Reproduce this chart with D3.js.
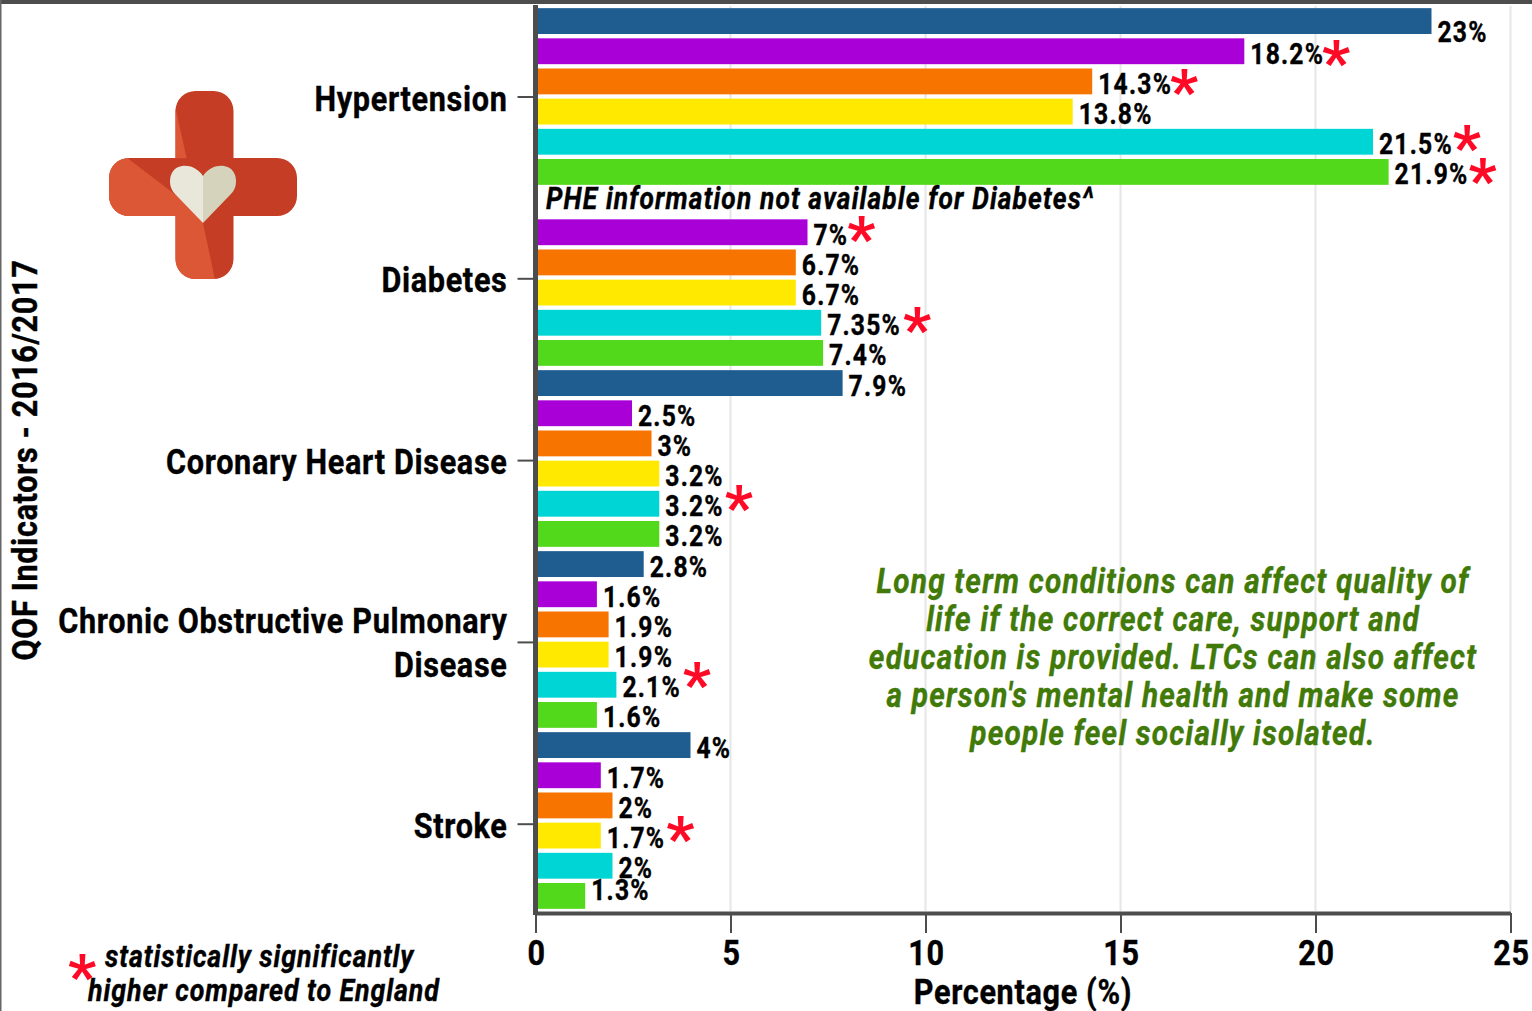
<!DOCTYPE html>
<html>
<head>
<meta charset="UTF-8">
<script src="https://d3js.org/d3.v7.min.js"></script>
<style>
    html, body { margin: 0; padding: 0; background: #fff; }
    text { font-family: Roboto, sans-serif; font-weight: 700; fill: #000; }
</style>
</head>
<body>
<svg id="canvas"></svg>
<script>
const groups = ["Hypertension", "Diabetes", "Coronary Heart Disease", "Chronic Obstructive Pulmonary Disease", "Stroke"];
const seriesNames = ["blue", "purple", "orange", "yellow", "cyan", "green"];
const seriesColours = ["#1f5c90", "#aa00d8", "#f77400", "#ffe900", "#00d5d5", "#52d91c"];

const blueValues = [23, null, 7.9, 2.8, 4];
const purpleValues = [18.2, 7, 2.5, 1.6, 1.7];
const orangeValues = [14.3, 6.7, 3, 1.9, 2];
const yellowValues = [13.8, 6.7, 3.2, 1.9, 1.7];
const cyanValues = [21.5, 7.35, 3.2, 2.1, 2];
const greenValues = [21.9, 7.4, 3.2, 1.6, 1.3];

// which bars get the red star
const blueStars = [0, 0, 0, 0, 0];
const purpleStars = [1, 1, 0, 0, 0];
const orangeStars = [1, 0, 0, 0, 0];
const yellowStars = [0, 0, 0, 0, 1];
const cyanStars = [1, 1, 1, 1, 0];
const greenStars = [1, 0, 0, 0, 0];

const xTicks = [0, 5, 10, 15, 20, 25];
const infoLines = [
    "Long term conditions can affect quality of",
    "life if the correct care, support and",
    "education is provided. LTCs can also affect",
    "a person's mental health and make some",
    "people feel socially isolated."
];

const allValues = [blueValues, purpleValues, orangeValues, yellowValues, cyanValues, greenValues];
const allStars = [blueStars, purpleStars, orangeStars, yellowStars, cyanStars, greenStars];

const width = 1532, height = 1011;
const squeeze = 0.85; // only plain Roboto is installed, the original is condensed
const dark = "#4d4d4d";

const svg = d3.select("#canvas")
    .attr("width", width)
    .attr("height", height)
    .style("display", "block");

const x = d3.scaleLinear().domain([0, 25]).range([535.5, 1510.5]);
const y0 = d3.scaleBand().domain(groups).range([6, 911]);
const y1 = d3.scaleBand().domain(seriesNames).range([0, y0.bandwidth()]).paddingInner(0.143).paddingOuter(0.0715);
const yTick = d3.scalePoint().domain(groups).range([96.5, 823.7]);
const colour = d3.scaleOrdinal().domain(seriesNames).range(seriesColours);

function put(parent, px, py, str, size, o) {
    o = o || {};
    return parent.append("text")
        .attr("transform", "translate(" + px + "," + py + ")" + (o.rotate ? " rotate(" + o.rotate + ")" : "") + " scale(" + squeeze + ",1)")
        .attr("text-anchor", o.anchor || "start")
        .style("font-size", size + "px")
        .style("font-style", o.italic ? "italic" : "normal")
        .style("letter-spacing", (o.spacing || 0) + "px")
        .style("fill", o.fill || "#000")
        .style("stroke", o.fill || "#000")
        .style("stroke-width", 0.4)
        .text(str);
}

function star(px, py) {
    svg.append("text")
        .attr("x", px)
        .attr("y", py)
        .attr("text-anchor", "middle")
        .style("font-size", "62px")
        .style("fill", "#ff0a26")
        .text("*");
}

// frame
svg.append("rect").attr("width", width).attr("height", 4).attr("fill", dark);
svg.append("rect").attr("width", 1.5).attr("height", height).attr("fill", "#666");

// grid
svg.append("g").selectAll("line")
    .data(xTicks.slice(1)).enter()
    .append("line")
    .attr("x1", d => x(d)).attr("x2", d => x(d))
    .attr("y1", 6).attr("y2", 911)
    .attr("stroke", "#e6e6e6")
    .attr("stroke-width", 2);

// logo
const logo = svg.append("g");
const defs = svg.append("defs");
const cross = defs.append("clipPath").attr("id", "cross");
cross.append("rect").attr("x", 175.5).attr("y", 91).attr("width", 58).attr("height", 188).attr("rx", 20);
cross.append("rect").attr("x", 109).attr("y", 158).attr("width", 188).attr("height", 58).attr("rx", 20);
const logoClip = logo.append("g").attr("clip-path", "url(#cross)");
logoClip.append("rect").attr("x", 109).attr("y", 91).attr("width", 188).attr("height", 188).attr("fill", "#c43d24");
logoClip.append("path").attr("fill", "#dc5735").attr("d", "M175,106L186.7,158.3L175,158.3Z");
logoClip.append("path").attr("fill", "#dc5735").attr("d", "M109,158L127.3,158L186.7,203.3L203,223L215,279.5L109,279.5Z");
logo.append("path").attr("fill", "#e8e7da").attr("d", "M203,176C198,168 189,165 182,166C174,167 170,174 170,181C170,187 172,191 176,195L203,223Z");
logo.append("path").attr("fill", "#d5d3bc").attr("d", "M203,176C208,168 217,165 224,166C232,167 236,174 236,181C236,187 234,191 230,195L203,223Z");

// bars
const rows = [];
seriesNames.forEach((s, i) => {
    groups.forEach((g, j) => {
        if (allValues[i][j] !== null) {
            rows.push({ series: s, group: g, value: allValues[i][j], star: allStars[i][j] });
        }
    });
});
const rowY = d => y0(d.group) + y1(d.series) + y1.bandwidth() / 2;

svg.append("g").selectAll("rect")
    .data(rows).enter()
    .append("rect")
    .attr("x", x(0))
    .attr("y", d => y0(d.group) + y1(d.series))
    .attr("width", d => x(d.value) - x(0) - 1)
    .attr("height", y1.bandwidth())
    .attr("fill", d => colour(d.series));

// the labels that sit off their bars in the original
function labelNudge(d) {
    if (d.value === 23) return 8;
    if (d.value === 1.3) return -8;
    return 0;
}

// hand placed in the original too: gap after the label, shift from the bar centre
const starShift = {
    "18.2": [12, 3], "14.3": [12, 2], "21.5": [14, -3], "21.9": [14, 0],
    "7": [13, -2], "7.35": [16, -2], "3.2": [15, -5], "2.1": [16, -9], "1.7": [15, -6]
};

const labels = svg.append("g");
rows.forEach(d => {
    const lx = x(d.value) + 5;
    const ly = rowY(d) + 12.5 + labelNudge(d);
    const t = put(labels, lx, ly, d.value + "%", 29, { spacing: 1.43 });
    if (d.star) {
        const end = lx + t.node().getComputedTextLength() * squeeze;
        const s = starShift[d.value];
        star(end + s[0], rowY(d) + 30 + s[1]);
    }
});

// axes
const yAxis = svg.append("g")
    .attr("transform", "translate(535.5,0)")
    .call(d3.axisLeft(yTick).tickSize(18).tickPadding(0).tickFormat(""));
yAxis.select(".domain").remove();
yAxis.selectAll(".tick line").attr("stroke", dark).attr("stroke-width", 2);
svg.append("line")
    .attr("x1", 535.5).attr("x2", 535.5)
    .attr("y1", y0.range()[0] - 1).attr("y2", 915)
    .attr("stroke", dark)
    .attr("stroke-width", 5);

const xAxis = svg.append("g")
    .attr("transform", "translate(0,913)")
    .call(d3.axisBottom(x).tickValues(xTicks).tickSize(20).tickSizeOuter(0).tickFormat(""));
xAxis.select(".domain").attr("stroke", dark).attr("stroke-width", 4);
xAxis.selectAll(".tick line").attr("stroke", dark).attr("stroke-width", 2);

xTicks.forEach(t => put(svg, x(t) + 1, 965, t, 36, { anchor: "middle", spacing: 0.8 }));

groups.forEach(g => {
    const cy = yTick(g);
    if (g.length > 30) {
        put(svg, 507.5, cy - 9, "Chronic Obstructive Pulmonary", 36, { anchor: "end", spacing: 0.8 });
        put(svg, 507.5, cy + 35, "Disease", 36, { anchor: "end", spacing: 0.8 });
    } else {
        put(svg, 507.5, cy + 14, g, 36, { anchor: "end", spacing: 0.8 });
    }
});

// titles and notes
put(svg, 37, 460, "QOF Indicators - 2016/2017", 36, { anchor: "middle", rotate: -90, spacing: 0.8 });
put(svg, 1023, 1004, "Percentage (%)", 36, { anchor: "middle", spacing: 0.8 });
put(svg, 546, 209, "PHE information not available for Diabetes^", 31, { italic: true, spacing: 1.34 });
infoLines.forEach((l, i) => {
    put(svg, 1173, 593 + i * 38, l, 35, { anchor: "middle", italic: true, fill: "#417a08", spacing: 1.43 });
});
put(svg, 105, 967, "statistically significantly", 31.5, { italic: true, spacing: 1.07 });
put(svg, 88, 1001, "higher compared to England", 31.5, { italic: true, spacing: 1.07 });
star(82, 998);
</script>
</body>
</html>
